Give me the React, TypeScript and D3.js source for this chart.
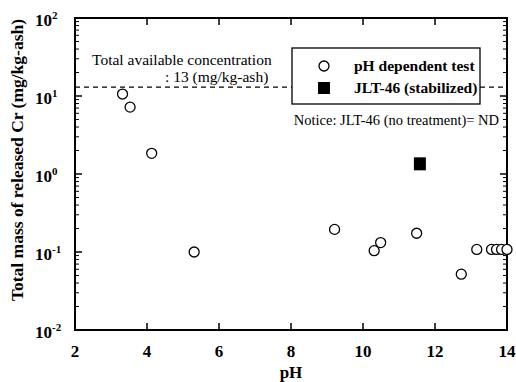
import React, { useEffect, useRef } from 'react';
import * as d3 from 'd3';

// pH dependent test (open circles)
const phValues = [3.32, 3.53, 4.13, 5.31, 9.21, 10.31, 10.49, 11.49, 12.73, 13.16, 13.57, 13.71, 13.85, 14.0];
const crValues = [10.6, 7.2, 1.84, 0.1, 0.195, 0.104, 0.132, 0.174, 0.052, 0.108, 0.108, 0.108, 0.108, 0.108];

// JLT-46 (stabilized) (filled square)
const stabPh = [11.58];
const stabCr = [1.37];

const totalAvailable = 13;
const xTicks = [2, 4, 6, 8, 10, 12, 14];
const yExponents = [-2, -1, 0, 1, 2];
const legendLabels = ['pH dependent test', 'JLT-46 (stabilized)'];

const W = 516;
const H = 382;
const FONT = "'Liberation Serif', 'Times New Roman', Times, serif";

const App: React.FC = () => {
  const ref = useRef<SVGSVGElement | null>(null);

  useEffect(() => {
    if (!ref.current) return;
    const svg = d3.select(ref.current);
    svg.selectAll('*').remove();

    const margin = { top: 18, right: 9, bottom: 52, left: 75 };
    const x0 = margin.left;
    const x1 = W - margin.right;
    const y0 = margin.top;
    const y1 = H - margin.bottom;

    const x = d3.scaleLinear().domain([2, 14]).range([x0, x1]);
    const y = d3.scaleLog().domain([0.01, 100]).range([y1, y0]);

    // dashed line: total available concentration
    svg.append('line')
      .attr('x1', x0).attr('x2', x1)
      .attr('y1', y(totalAvailable)).attr('y2', y(totalAvailable))
      .attr('stroke', '#000').attr('stroke-width', 1.3)
      .attr('stroke-dasharray', '5,4');

    // frame
    svg.append('rect')
      .attr('x', x0).attr('y', y0)
      .attr('width', x1 - x0).attr('height', y1 - y0)
      .attr('fill', 'none').attr('stroke', '#000').attr('stroke-width', 2);

    // x ticks (inward, top and bottom)
    const tk = svg.append('g').attr('stroke', '#000').attr('stroke-width', 1.5);
    xTicks.slice(1, -1).forEach((t) => {
      tk.append('line').attr('x1', x(t)).attr('x2', x(t)).attr('y1', y1).attr('y2', y1 - 7);
      tk.append('line').attr('x1', x(t)).attr('x2', x(t)).attr('y1', y0).attr('y2', y0 + 7);
    });

    // y ticks (major + minor, inward, left and right)
    yExponents.forEach((e) => {
      const v = Math.pow(10, e);
      if (e > -2 && e < 2) {
        tk.append('line').attr('x1', x0).attr('x2', x0 + 7).attr('y1', y(v)).attr('y2', y(v));
        tk.append('line').attr('x1', x1).attr('x2', x1 - 7).attr('y1', y(v)).attr('y2', y(v));
      }
      if (e < 2) {
        for (let m = 2; m <= 9; m++) {
          const yy = y(v * m);
          tk.append('line').attr('x1', x0).attr('x2', x0 + 4).attr('y1', yy).attr('y2', yy).attr('stroke-width', 1);
          tk.append('line').attr('x1', x1).attr('x2', x1 - 4).attr('y1', yy).attr('y2', yy).attr('stroke-width', 1);
        }
      }
    });

    const txt = svg.append('g').style('font-family', FONT).attr('fill', '#000');

    // x tick labels
    txt.append('g')
      .selectAll('text')
      .data(xTicks)
      .enter()
      .append('text')
      .attr('x', (d) => x(d))
      .attr('y', 357)
      .attr('text-anchor', 'middle')
      .attr('font-size', 17)
      .attr('font-weight', 'bold')
      .text((d) => d);

    // y tick labels 10^n
    const yl = txt.append('g')
      .selectAll('text')
      .data(yExponents)
      .enter()
      .append('text')
      .attr('x', 35)
      .attr('y', (d) => y(Math.pow(10, d)) + 8)
      .attr('font-size', 17)
      .attr('font-weight', 'bold');
    yl.append('tspan').text('10');
    yl.append('tspan').attr('dy', -7).attr('font-size', 11).text((d) => d);

    // axis titles
    txt.append('text')
      .attr('x', (x0 + x1) / 2).attr('y', 378)
      .attr('text-anchor', 'middle')
      .attr('font-size', 17).attr('font-weight', 'bold')
      .text('pH');
    txt.append('text')
      .attr('transform', 'translate(23,160) rotate(-90)')
      .attr('text-anchor', 'middle')
      .attr('font-size', 17.5).attr('font-weight', 'bold')
      .text('Total mass of released Cr (mg/kg-ash)');

    // annotations
    txt.append('text')
      .attr('x', 92).attr('y', 65)
      .attr('font-size', 15.5)
      .text('Total available concentration');
    txt.append('text')
      .attr('x', 165).attr('y', 82)
      .attr('font-size', 15.5)
      .text(`: ${totalAvailable} (mg/kg-ash)`);
    txt.append('text')
      .attr('x', 499).attr('y', 125)
      .attr('text-anchor', 'end')
      .attr('font-size', 14.5)
      .text('Notice: JLT-46 (no treatment)= ND');

    // legend
    const lg = svg.append('g');
    lg.append('rect')
      .attr('x', 292).attr('y', 48).attr('width', 188).attr('height', 56)
      .attr('fill', '#fff').attr('stroke', '#000').attr('stroke-width', 1.3);
    lg.append('circle')
      .attr('cx', 324).attr('cy', 66).attr('r', 5)
      .attr('fill', '#fff').attr('stroke', '#000').attr('stroke-width', 1.3);
    lg.append('rect')
      .attr('x', 318).attr('y', 82).attr('width', 12).attr('height', 12)
      .attr('fill', '#000');
    legendLabels.forEach((l, i) => {
      lg.append('text')
        .attr('x', 354).attr('y', 71 + i * 22)
        .style('font-family', FONT)
        .attr('font-size', 15.5).attr('font-weight', 'bold')
        .text(l);
    });

    // data: open circles
    svg.append('g')
      .selectAll('circle')
      .data(phValues)
      .enter()
      .append('circle')
      .attr('cx', (d) => x(d))
      .attr('cy', (_, i) => y(crValues[i]))
      .attr('r', 5)
      .attr('fill', '#fff')
      .attr('stroke', '#000')
      .attr('stroke-width', 1.3);

    // data: filled squares
    svg.append('g')
      .selectAll('rect')
      .data(stabPh)
      .enter()
      .append('rect')
      .attr('x', (d) => x(d) - 6)
      .attr('y', (_, i) => y(stabCr[i]) - 6)
      .attr('width', 12)
      .attr('height', 13)
      .attr('fill', '#000');
  }, []);

  return (
    <svg
      ref={ref}
      width={W}
      height={H}
      style={{ position: 'absolute', left: 0, top: 0, background: '#fff' }}
    />
  );
};

export default App;
